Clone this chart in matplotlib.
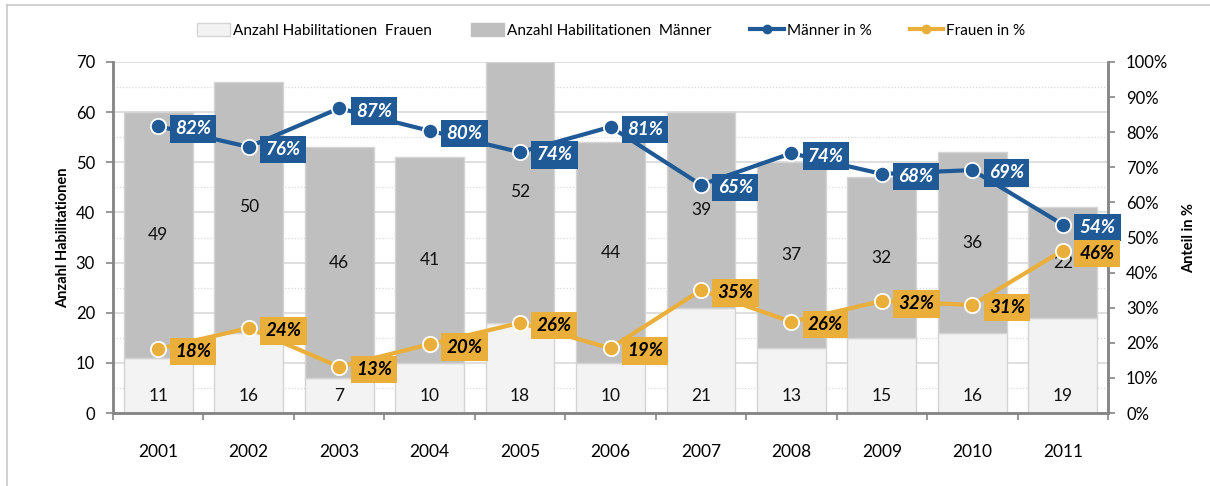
import matplotlib.pyplot as plt
import numpy as np
from matplotlib.lines import Line2D
from matplotlib.patches import Patch
from matplotlib.ticker import MultipleLocator, FuncFormatter

plt.rcParams['font.family'] = ['Lato', 'DejaVu Sans']

years = ['2001', '2002', '2003', '2004', '2005', '2006', '2007', '2008', '2009', '2010', '2011']
frauen = [11, 16, 7, 10, 18, 10, 21, 13, 15, 16, 19]
maenner = [49, 50, 46, 41, 52, 44, 39, 37, 32, 36, 22]
maenner_pct = [81.7, 75.8, 86.8, 80.4, 74.3, 81.5, 65.0, 74.0, 68.1, 69.2, 53.7]
frauen_pct = [18.3, 24.2, 13.2, 19.6, 25.7, 18.5, 35.0, 26.0, 31.9, 30.8, 46.3]
maenner_lbl = ['82%', '76%', '87%', '80%', '74%', '81%', '65%', '74%', '68%', '69%', '54%']
frauen_lbl = ['18%', '24%', '13%', '20%', '26%', '19%', '35%', '26%', '32%', '31%', '46%']

blue = '#1F5A96'
orange = '#EAAE3B'
grid_c = '#D9D9D9'
spine_c = '#868686'

fig = plt.figure(figsize=(12.1, 4.86), dpi=100)
ax = fig.add_axes([0.0934, 0.150, 0.8223, 0.7226])
x = np.arange(len(years))

ax.bar(x, frauen, width=0.76, color='#F2F3F2', edgecolor='#D4D4D4', linewidth=1, zorder=2)
ax.bar(x, maenner, bottom=frauen, width=0.76, color='#BFBFBF', edgecolor='#D4D4D4', linewidth=1, zorder=2)

for i in range(len(years)):
    ax.text(x[i], 3.4, str(frauen[i]), ha='center', va='center', fontsize=12.5, color='#111111', zorder=3)
    ax.text(x[i], frauen[i] + maenner[i] / 2, str(maenner[i]), ha='center', va='center',
            fontsize=12.5, color='#111111', zorder=3)

ax.set_xlim(-0.5, len(years) - 0.5)
ax.set_ylim(0, 70)
ax.yaxis.set_major_locator(MultipleLocator(10))
ax.yaxis.set_minor_locator(MultipleLocator(5))
ax.grid(axis='y', which='major', color=grid_c, linewidth=1.2, zorder=0)
ax.grid(axis='y', which='minor', color=grid_c, linewidth=0.9, linestyle=(0, (1, 1.5)), zorder=0)
ax.set_axisbelow(True)

ax.set_xticks(x)
ax.set_xticklabels(years, fontsize=12.5)
ax.set_xticks(np.arange(-0.5, len(years)), minor=True)
ax.tick_params(axis='x', which='major', length=0, pad=22)
ax.tick_params(axis='x', which='minor', length=5, color=spine_c, width=1.2)
ax.tick_params(axis='y', which='major', length=5, color=spine_c, width=1.2, labelsize=12, pad=8)
ax.tick_params(axis='y', which='minor', length=0)
ax.set_ylabel('Anzahl Habilitationen', fontsize=10.5, fontweight='bold', labelpad=4)

for s in ['left', 'bottom', 'right']:
    ax.spines[s].set_color(spine_c)
    ax.spines[s].set_linewidth(1.8)
ax.spines['top'].set_visible(False)

ax2 = ax.twinx()
ax2.set_ylim(0, 100)
ax2.yaxis.set_major_locator(MultipleLocator(10))
ax2.yaxis.set_major_formatter(FuncFormatter(lambda v, p: '%d%%' % v))
ax2.tick_params(axis='y', length=5, color=spine_c, width=1.2, labelsize=12, pad=8)
ax2.set_ylabel('Anteil in %', fontsize=10.5, fontweight='bold', labelpad=10)
for s in ['left', 'bottom', 'right']:
    ax2.spines[s].set_color(spine_c)
    ax2.spines[s].set_linewidth(1.8)
ax2.spines['top'].set_visible(False)

ax2.plot(x, maenner_pct, color=blue, linewidth=3, marker='o', markersize=11,
         markerfacecolor=blue, markeredgecolor='white', markeredgewidth=1.3, zorder=4)
ax2.plot(x, frauen_pct, color=orange, linewidth=3, marker='o', markersize=11,
         markerfacecolor=orange, markeredgecolor='white', markeredgewidth=1.3, zorder=4)

for i in range(len(years)):
    ax2.annotate(maenner_lbl[i], (x[i], maenner_pct[i]), xytext=(12, -2), textcoords='offset points',
                 ha='left', va='center', fontsize=13.5, fontweight='bold', fontstyle='italic', color='white',
                 bbox=dict(boxstyle='square,pad=0.28', fc=blue, ec='none'), zorder=5)
    ax2.annotate(frauen_lbl[i], (x[i], frauen_pct[i]), xytext=(12, -2), textcoords='offset points',
                 ha='left', va='center', fontsize=13.5, fontweight='bold', fontstyle='italic', color='black',
                 bbox=dict(boxstyle='square,pad=0.28', fc=orange, ec='none'), zorder=5)

handles = [
    Patch(facecolor='#F2F3F2', edgecolor='#D4D4D4', label='Anzahl Habilitationen  Frauen'),
    Patch(facecolor='#BFBFBF', edgecolor='#BFBFBF', label='Anzahl Habilitationen  Männer'),
    Line2D([0], [0], color=blue, linewidth=3, marker='o', markersize=6, label='Männer in %'),
    Line2D([0], [0], color=orange, linewidth=3, marker='o', markersize=6, label='Frauen in %'),
]
fig.legend(handles=handles, loc='center', bbox_to_anchor=(0.505, 0.937), ncol=4, frameon=False,
           fontsize=11, handlelength=2.2, handleheight=0.9, columnspacing=2.5, handletextpad=0.2)

# light frame around the chart area
fig.add_artist(Line2D([0.006, 0.006], [0.0, 0.99], color='#C8C8C8', linewidth=1.2))
fig.add_artist(Line2D([0.006, 1.0], [0.99, 0.99], color='#C8C8C8', linewidth=1.2))

fig.savefig('out.png', dpi=100)
